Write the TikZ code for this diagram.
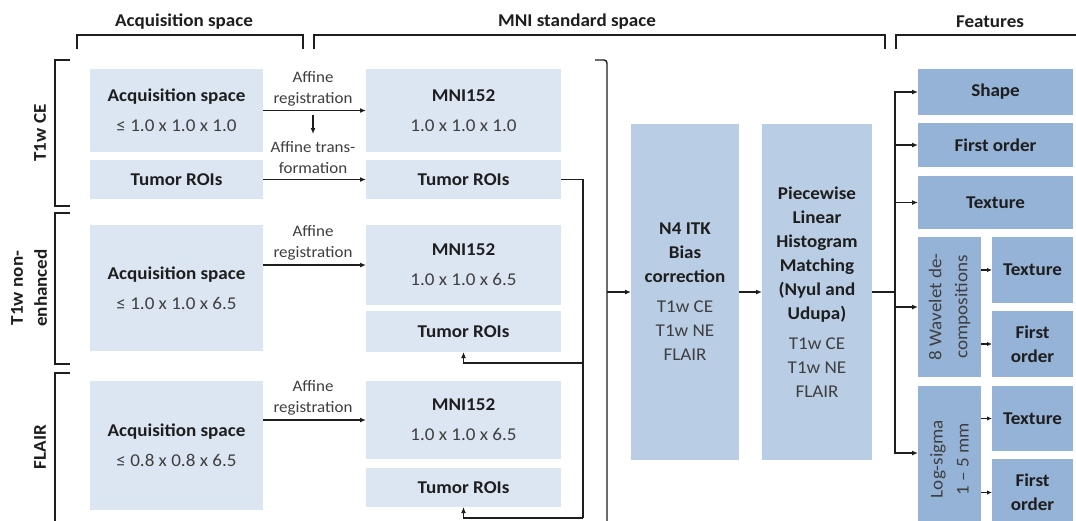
\documentclass[tikz,border=0pt]{standalone}
\usepackage{fontspec}
\setmainfont[FakeStretch=1.06]{Carlito}
\usetikzlibrary{arrows.meta}
\definecolor{cone}{HTML}{DCE6F2}
\definecolor{ctwo}{HTML}{B9CDE5}
\definecolor{cthree}{HTML}{95B3D7}
\definecolor{txtdark}{HTML}{1E1E1E}
\definecolor{txtreg}{HTML}{3F3F3F}
\definecolor{linec}{HTML}{1E1E1E}
\newcommand\boldtxt[1]{{\bfseries\color{txtdark}#1}}
\tikzset{
  box/.style={draw=none, inner sep=0pt, outer sep=0pt, align=center, text=txtreg,
    font=\fontsize{18}{24}\selectfont},
  sz/.style n args={2}{minimum width=#1pt, minimum height=#2pt},
  lb/.style={box, fill=cone},
  mb/.style={box, fill=ctwo},
  db/.style={box, fill=cthree},
  hdr/.style={inner sep=0pt, font=\fontsize{18}{24}\selectfont\bfseries, text=txtdark},
  lab/.style={inner sep=0pt, align=center, text=txtreg, font=\fontsize{16}{21}\selectfont},
  brk/.style={draw=linec, line width=1.4pt},
  ln/.style={draw=linec, line width=1.4pt},
  arr/.style={ln, -{Latex[length=6pt,width=5pt]}},
  sarr/.style={ln, -{Latex[length=5pt,width=4.5pt]}},
}
\begin{document}
\begin{tikzpicture}[x=1pt,y=-1pt]
\useasboundingbox (0,0) rectangle (1076,520);
\fill[white] (0,0) rectangle (1076,520);
\clip (0,0) rectangle (1076,520);

% headers
\node[hdr] (hA) at (184,22) {Acquisition space};
\node[hdr] (hM) at (577,22) {MNI standard space};
\node[hdr] (hF) at (990,22) {Features};

% top brackets
\draw[brk] (77,49) -- (77,35) -- (303,35) -- (303,49);
\draw[brk] (314,49) -- (314,35) -- (885,35) -- (885,49);
\draw[brk] (896,49) -- (896,35) -- (1085,35);

% left brackets
\draw[brk] (70,60) -- (55,60) -- (55,206) -- (70,206);
\draw[brk] (70,213) -- (55,213) -- (55,364) -- (70,364);
\draw[brk] (70,373) -- (55,373) -- (55,530);

% left labels
\node[hdr, rotate=90] (lT1) at (40,133) {T1w CE};
\node[hdr, rotate=90, align=center] (lNE) at (29,288) {T1w non-\\enhanced};
\node[hdr, rotate=90] (lFL) at (40,447) {FLAIR};

% acquisition / MNI boxes
\node[lb, sz={173}{83}] (acq1) at (176.5,110.5) {\boldtxt{Acquisition space}\\[6pt]≤ 1.0 x 1.0 x 1.0};
\node[lb, sz={173}{39}] (roiA1) at (176.5,179.5) {\boldtxt{Tumor ROIs}};
\node[lb, sz={195}{83}] (mni1) at (463.5,110.5) {\boldtxt{MNI152}\\[6pt]1.0 x 1.0 x 1.0};
\node[lb, sz={195}{39}] (roiM1) at (463.5,179.5) {\boldtxt{Tumor ROIs}};

\node[lb, sz={173}{126}] (acq2) at (176.5,288) {\boldtxt{Acquisition space}\\[6pt]≤ 1.0 x 1.0 x 6.5};
\node[lb, sz={195}{80}] (mni2) at (463.5,265) {\boldtxt{MNI152}\\[6pt]1.0 x 1.0 x 6.5};
\node[lb, sz={195}{41}] (roiM2) at (463.5,331.5) {\boldtxt{Tumor ROIs}};

\node[lb, sz={173}{129}] (acq3) at (176.5,445.5) {\boldtxt{Acquisition space}\\[6pt]≤ 0.8 x 0.8 x 6.5};
\node[lb, sz={195}{78}] (mni3) at (463.5,420) {\boldtxt{MNI152}\\[6pt]1.0 x 1.0 x 6.5};
\node[lb, sz={195}{39}] (roiM3) at (463.5,487.5) {\boldtxt{Tumor ROIs}};

% registration arrows and labels
\draw[arr] (acq1) -- (mni1);
\node[lab] (reg1) at (313,89) {Affine\\registration};
\coordinate (d1) at (313,115);
\coordinate (d2) at (313,134);
\draw[arr] (d1) -- (d2);
\node[lab] (trf1) at (313,158) {Affine trans-\\formation};
\draw[arr] (roiA1) -- (roiM1);

\draw[arr] (acq2.east |- mni2) -- (mni2.west);
\node[lab] (reg2) at (313,242.5) {Affine\\registration};
\draw[arr] (acq3.east |- mni3) -- (mni3.west);
\node[lab] (reg3) at (313,397.5) {Affine\\registration};

% ROI routing
\coordinate (rc) at (583,179.5);
\coordinate (rb) at (583,518);
\coordinate (rm) at (583,363);
\draw[ln] (roiM1.east) -- (rc) -- (rb);
\draw[arr] (rb) -| (roiM3.south);
\draw[arr] (rm) -| (roiM2.south);

% big bracket
\draw[brk, rounded corners=3pt] (595,60) -- (607,60) -- (607,530);
\coordinate (bk) at (607,292);

% processing boxes
\node[mb, sz={108}{336}] (n4) at (685,292) {\boldtxt{N4 ITK}\\\boldtxt{Bias}\\\boldtxt{correction}\\[6pt]T1w CE\\T1w NE\\FLAIR};
\node[mb, sz={110}{336}] (plhm) at (817,292) {\boldtxt{Piecewise}\\\boldtxt{Linear}\\\boldtxt{Histogram}\\\boldtxt{Matching}\\\boldtxt{(Nyul and}\\\boldtxt{Udupa)}\\[6pt]T1w CE\\T1w NE\\FLAIR};
\draw[arr] (bk) -- (n4.west);
\draw[arr] (n4) -- (plhm);

% features
\node[db, sz={155}{46}] (shape) at (995.5,92) {\boldtxt{Shape}};
\node[db, sz={155}{44}] (first) at (995.5,145) {\boldtxt{First order}};
\node[db, sz={155}{53}] (tex) at (995.5,202.5) {\boldtxt{Texture}};
\node[db, rotate=90, sz={140}{63}, font=\fontsize{18}{26}\selectfont] (wav) at (949.5,307) {8 Wavelet de-\\compositions};
\node[db, sz={81}{66}] (texW) at (1032.5,270) {\boldtxt{Texture}};
\node[db, sz={81}{66}] (firstW) at (1032.5,344) {\boldtxt{First}\\\boldtxt{order}};
\node[db, rotate=90, sz={146}{63}, font=\fontsize{18}{26}\selectfont] (logs) at (949.5,459) {Log-sigma\\1 -- 5 mm};
\node[db, sz={81}{65}] (texL) at (1032.5,418.5) {\boldtxt{Texture}};
\node[db, sz={81}{67}] (firstL) at (1032.5,492.5) {\boldtxt{First}\\\boldtxt{order}};

\coordinate (fx) at (895,292);
\draw[ln] (plhm.east) -- (fx);
\draw[arr] (fx) |- (shape.west);
\draw[arr] (fx) |- (first.west);
\draw[arr] (fx) |- (tex.west);
\draw[arr] (fx) |- (wav.north);
\draw[arr] (fx) |- ([yshift=6pt]logs.north);

\draw[sarr] (wav.south |- texW) -- (texW.west);
\draw[sarr] (wav.south |- firstW) -- (firstW.west);
\draw[sarr] (logs.south |- texL) -- (texL.west);
\draw[sarr] (logs.south |- firstL) -- (firstL.west);
\end{tikzpicture}
\end{document}
